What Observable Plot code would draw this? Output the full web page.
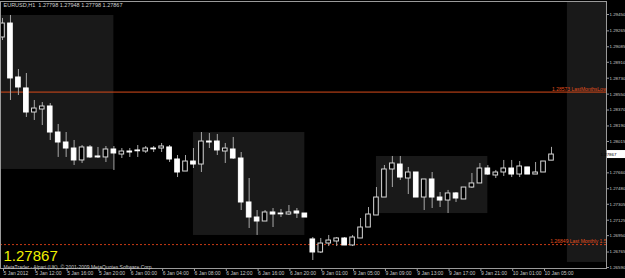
<!DOCTYPE html>
<html><head><meta charset="utf-8">
<script src="https://cdn.jsdelivr.net/npm/d3@7"></script>
<script src="https://cdn.jsdelivr.net/npm/@observablehq/plot@0.6"></script>
<style>
html,body{margin:0;padding:0;background:#000;}
#chart{width:625px;height:278px;overflow:hidden;position:relative;}
</style></head><body><div id="chart"></div>
<script>
const symbolTitle = "EURUSD,H1  1.27798 1.27948 1.27798 1.27867";
const copyright = "MetaTrader - Alpari (UK), © 2001-2009 MetaQuotes Software Corp.";
const xLabelIndex = [0,4,8,12,16,20,24,28,32,36,40,44,48,52,56,60,64,68];
const xLabels = ["5 Jan 2012","5 Jan 12:00","5 Jan 16:00","5 Jan 20:00","6 Jan 00:00","6 Jan 04:00","6 Jan 08:00","6 Jan 12:00","6 Jan 16:00","6 Jan 20:00","9 Jan 01:00","9 Jan 05:00","9 Jan 09:00","9 Jan 13:00","9 Jan 17:00","9 Jan 21:00","10 Jan 01:00","10 Jan 05:00"];
const yTicks = [1.29450,1.29265,1.29085,1.28910,1.28730,1.28550,1.28370,1.28190,1.28015,1.27660,1.27480,1.27305,1.27125,1.26950,1.26765,1.26590];

const open  = [1.29190,1.29348,1.28738,1.28614,1.28342,1.28376,1.28410,1.28116,1.28003,1.27935,1.27800,1.27947,1.27845,1.27834,1.27924,1.27867,1.27901,1.27913,1.27901,1.27935,1.27935,1.27947,1.27811,1.27675,1.27788,1.27754,1.28014,1.28014,1.27901,1.27924,1.27822,1.27325,1.27155,1.27110,1.27212,1.27200,1.27189,1.27223,1.27200,1.26907,1.26760,1.26861,1.26884,1.26918,1.26839,1.26918,1.27042,1.27178,1.27381,1.27698,1.27754,1.27596,1.27664,1.27381,1.27585,1.27381,1.27347,1.27427,1.27359,1.27494,1.27540,1.27709,1.27630,1.27664,1.27709,1.27641,1.27721,1.27641,1.27664,1.27798];
const high  = [1.29405,1.29439,1.28828,1.28783,1.28478,1.28455,1.28444,1.28207,1.28116,1.28026,1.27969,1.27969,1.27947,1.27958,1.27958,1.27935,1.27935,1.27969,1.27958,1.27958,1.27992,1.27969,1.27856,1.27856,1.27935,1.28116,1.28105,1.28094,1.27992,1.28060,1.27890,1.27596,1.27234,1.27234,1.27257,1.27246,1.27291,1.27257,1.27200,1.26929,1.26918,1.26952,1.26929,1.26929,1.26952,1.27144,1.27268,1.27494,1.27743,1.27845,1.27845,1.27721,1.27664,1.27585,1.27664,1.27438,1.27461,1.27438,1.27494,1.27653,1.27766,1.27743,1.27687,1.27800,1.27800,1.27788,1.27721,1.27777,1.27788,1.27948];
const low   = [1.29156,1.28478,1.28534,1.28286,1.28252,1.28195,1.28026,1.27834,1.27834,1.27743,1.27766,1.27822,1.27822,1.27777,1.27687,1.27822,1.27834,1.27834,1.27879,1.27890,1.27890,1.27777,1.27607,1.27675,1.27709,1.27664,1.27935,1.27856,1.27766,1.27811,1.27234,1.27031,1.26952,1.27110,1.27042,1.27155,1.27178,1.27144,1.27155,1.26669,1.26748,1.26827,1.26827,1.26839,1.26827,1.26918,1.27042,1.27178,1.27381,1.27494,1.27574,1.27415,1.27381,1.27234,1.27257,1.27268,1.27200,1.27325,1.27359,1.27483,1.27540,1.27630,1.27596,1.27619,1.27607,1.27607,1.27641,1.27641,1.27664,1.27798];
const close = [1.29348,1.28727,1.28625,1.28342,1.28387,1.28410,1.28116,1.28003,1.27935,1.27800,1.27947,1.27834,1.27834,1.27924,1.27879,1.27901,1.27890,1.27904,1.27935,1.27926,1.27958,1.27811,1.27664,1.27788,1.27754,1.28014,1.28003,1.27913,1.27935,1.27822,1.27325,1.27155,1.27110,1.27212,1.27189,1.27191,1.27212,1.27200,1.27155,1.26760,1.26861,1.26895,1.26918,1.26839,1.26929,1.27042,1.27189,1.27381,1.27698,1.27766,1.27607,1.27664,1.27381,1.27585,1.27381,1.27347,1.27427,1.27370,1.27494,1.27540,1.27709,1.27641,1.27664,1.27709,1.27641,1.27732,1.27641,1.27664,1.27788,1.27867];

const boxStart = [-1, 24, 47, 71];
const boxEnd   = [14, 38, 61, 80];
const boxHigh  = [1.29439, 1.28116, 1.27845, 1.29586];
const boxLow   = [1.27698, 1.26952, 1.27200, 1.26647];

const levelValues = [1.28573, 1.26849];
const levelLabels = ["1.28573 LastMonthsLow", "1.26849 Last Monthly 1.5"];
const lastClose = close[close.length - 1];

const candles = open.map((o, i) => ({i, o, h: high[i], l: low[i], c: close[i]}));
const bulls = candles.filter(d => d.c >= d.o);
const bears = candles.filter(d => d.c < d.o);
const boxes = boxStart.map((s, k) => ({s, e: boxEnd[k], hi: boxHigh[k], lo: boxLow[k]}));
const levels = levelValues.map((v, k) => ({v, label: levelLabels[k]}));

const font = "Liberation Sans, Arial, sans-serif";
const chart = Plot.plot({
  width: 625, height: 278,
  marginLeft: 0, marginRight: 19, marginTop: 1, marginBottom: 10,
  style: {background: "#000", color: "#c8c8c8", fontFamily: font, fontSize: "5px"},
  x: {type: "linear", domain: [0, 69], range: [2, 551]},
  y: {type: "linear", domain: [1.26590, 1.29450], range: [267, 14]},
  marks: [
    Plot.rect(boxes, {x1: "s", x2: "e", y1: "lo", y2: "hi", fill: "#191919", clip: true}),
    Plot.ruleY(levels.slice(0,1), {y: "v", stroke: "#d84a1a", strokeWidth: 1}),
    Plot.ruleY(levels.slice(1), {y: "v", stroke: "#c83a14", strokeDasharray: "2,2"}),
    Plot.text(levels, {y: "v", text: "label", frameAnchor: "right", textAnchor: "end", dy: -3, fill: "#e0501e", fontSize: 5}),
    Plot.ruleX(candles, {x: "i", y1: "l", y2: "h", stroke: "#a8a8a8"}),
    Plot.rect(bulls, {x1: d => d.i - 0.29, x2: d => d.i + 0.29, y1: "o", y2: "c", fill: "#000", stroke: "#d8d8d8"}),
    Plot.rect(bears, {x1: d => d.i - 0.29, x2: d => d.i + 0.29, y1: "o", y2: "c", fill: "#fff", stroke: "#fff"}),
    Plot.frame({stroke: "#9a9a9a"}),
    Plot.axisY({anchor: "right", ticks: yTicks, tickFormat: d3.format(".5f"), tickSize: 2, tickPadding: 1, stroke: "#9a9a9a", fill: "#c8c8c8", fontSize: 4.4, label: null}),
    Plot.axisX({anchor: "bottom", ticks: xLabelIndex, tickFormat: i => xLabels[xLabelIndex.indexOf(i)], tickSize: 3, tickPadding: 0, textAnchor: "start", dx: 1, stroke: "#9a9a9a", fill: "#c8c8c8", fontSize: 5, label: null}),
    Plot.text([symbolTitle], {text: d => d, frameAnchor: "top-left", lineAnchor: "top", textAnchor: "start", dx: 3, dy: 2, fill: "#d0d0d0", fontSize: 5.5}),
    Plot.text([lastClose], {text: d => d.toFixed(5), frameAnchor: "bottom-left", lineAnchor: "bottom", textAnchor: "start", dx: 3, dy: -7.5, fill: "#f0f000", fontSize: 15}),
    Plot.text([copyright], {text: d => d, frameAnchor: "bottom-left", lineAnchor: "bottom", textAnchor: "start", dx: 3, dy: 0, fill: "#c8c8c8", fontSize: 5})
  ]
});
document.getElementById("chart").appendChild(chart);

// current price tag on the right axis, placed with the chart's own y scale
const yPos = chart.scale("y").apply(lastClose);
const svg = d3.select(chart);
svg.append("rect").attr("x", 607).attr("y", yPos - 4).attr("width", 18).attr("height", 8).attr("fill", "#fff");
svg.append("text").attr("x", 608.5).attr("y", yPos).attr("dy", "0.35em").attr("font-size", 4.4).attr("fill", "#000").attr("font-family", font).text(lastClose.toFixed(5));
</script></body></html>
